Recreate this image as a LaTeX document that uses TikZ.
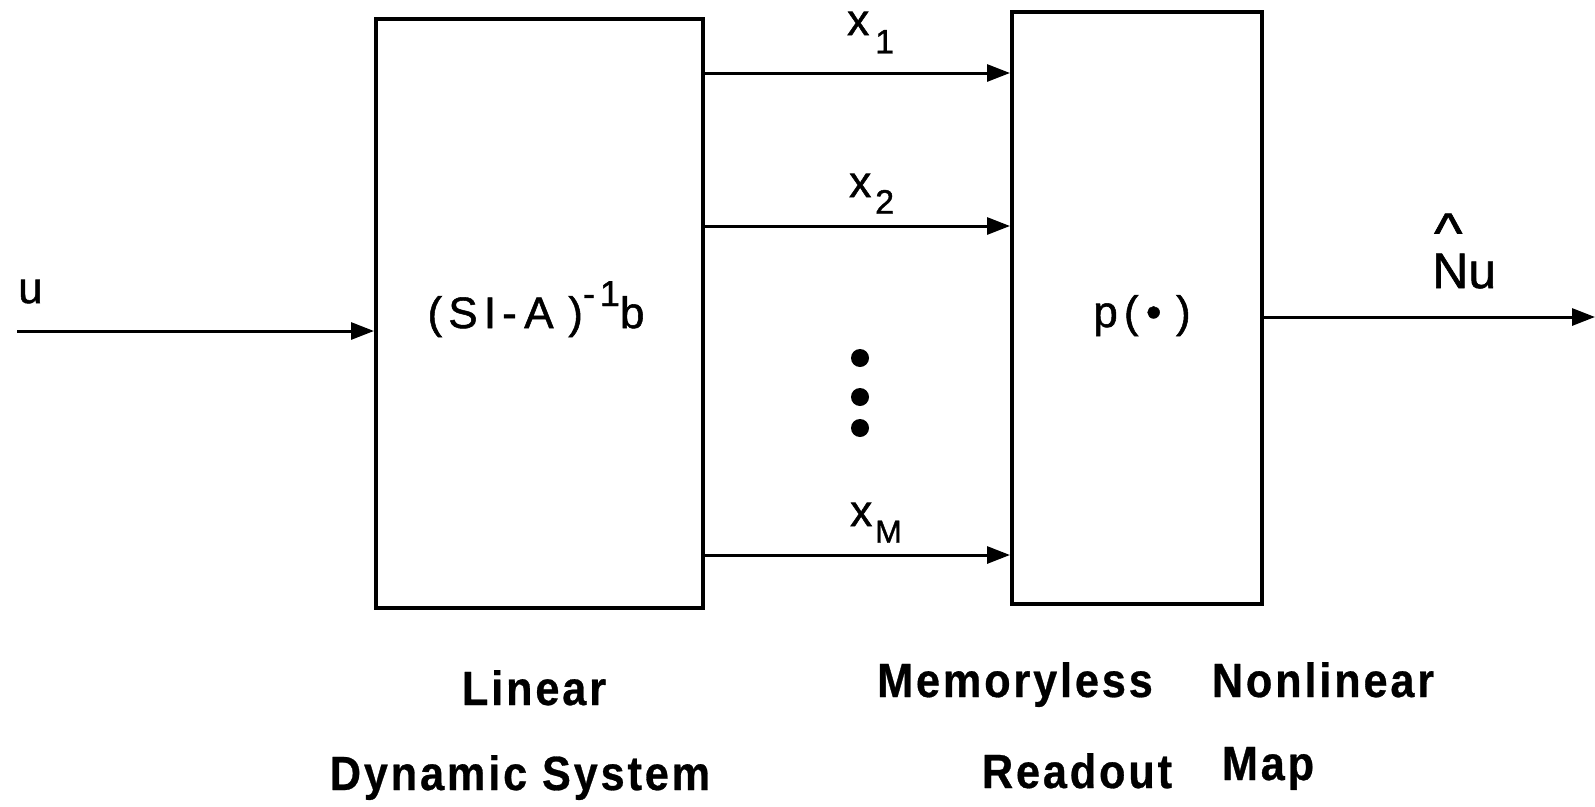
\documentclass[tikz,border=0pt]{standalone}
\usepackage{fontspec}
\setmainfont{Liberation Sans}
\newfontfamily\labf[FakeBold=1.2]{Liberation Sans}
\newfontfamily\labsp[FakeBold=1.2,LetterSpace=14]{Liberation Sans}
\newfontfamily\capf[FakeStretch=0.9,LetterSpace=6,FakeBold=0.6]{Liberation Sans Bold}
\usetikzlibrary{arrows.meta}
\begin{document}
\begin{tikzpicture}[x=1pt,y=-1pt,
  blk/.style={draw, line width=4pt, inner sep=0pt},
  conn/.style={line width=3pt, -{Triangle[length=23pt,width=17pt]}},
  lab/.style={font=\labf\fontsize{44}{48}\selectfont, inner sep=0pt},
  labw/.style={font=\labsp\fontsize{44}{48}\selectfont, inner sep=0pt},
  capt/.style={font=\capf\fontsize{48}{52}\selectfont, inner sep=0pt, anchor=base},
  dotc/.style={fill=black, circle, inner sep=0pt, minimum size=18pt}]
\useasboundingbox (0,0) rectangle (1595,806);
% blocks
\node[blk, minimum width=327pt, minimum height=589pt] (lin) at (539.5,313.5) {};
\node[blk, minimum width=250pt, minimum height=592pt] (read) at (1137,308) {};
\node[labw, anchor=base] (linlab) at (536,328)
  {(SI-\,A\,\,)\raisebox{0.5em}{\fontsize{36}{36}\selectfont -1}b};
\node[labw, anchor=base] (readlab) at (1142,327)
  {p(\,\textbullet\,\,)};
% coordinates
\coordinate (uin) at (17,331);
\coordinate (r1) at (0,73);
\coordinate (r2) at (0,226);
\coordinate (rM) at (0,555);
\coordinate (ro) at (0,317);
\coordinate (out) at (1595,317);
% connectors
\draw[conn] (uin) -- (uin -| lin.west);
\draw[conn] (lin.east |- r1) -- (read.west |- r1);
\draw[conn] (lin.east |- r2) -- (read.west |- r2);
\draw[conn] (lin.east |- rM) -- (read.west |- rM);
\draw[conn] (read.east |- ro) -- (out);
% dots
\node[dotc] (d1) at (860,358) {};
\node[dotc] (d2) at (860,397) {};
\node[dotc] (d3) at (860,428) {};
% labels
\node[lab, anchor=base west] (lu) at (18,303) {u};
\node[lab, anchor=base west] (lx1) at (847,35) {x\hspace{6pt}\raisebox{-0.42em}{\fontsize{34}{34}\selectfont 1}};
\node[lab, anchor=base west] (lx2) at (849,197) {x\hspace{4pt}\raisebox{-0.38em}{\fontsize{34}{34}\selectfont 2}};
\node[lab, anchor=base west] (lxM) at (850,526) {x\hspace{3pt}\raisebox{-0.38em}{\fontsize{32}{32}\selectfont M}};
\node[lab, anchor=base west, font=\labf\fontsize{50}{54}\selectfont] (lnu) at (1432,288)
  {\makebox[0pt][l]{\hspace{2pt}\raisebox{0.73em}{\scalebox{1.2}[1.1]{\textasciicircum}}}Nu};
% captions
\node[capt] (c1) at (534,705) {Linear};
\node[capt] (c2) at (520,790) {Dynamic System};
\node[capt] (c3) at (1015,697) {Memoryless};
\node[capt] (c4) at (1323,697) {Nonlinear};
\node[capt] (c5) at (1077,788) {Readout};
\node[capt] (c6) at (1268,780) {Map};
\end{tikzpicture}
\end{document}
